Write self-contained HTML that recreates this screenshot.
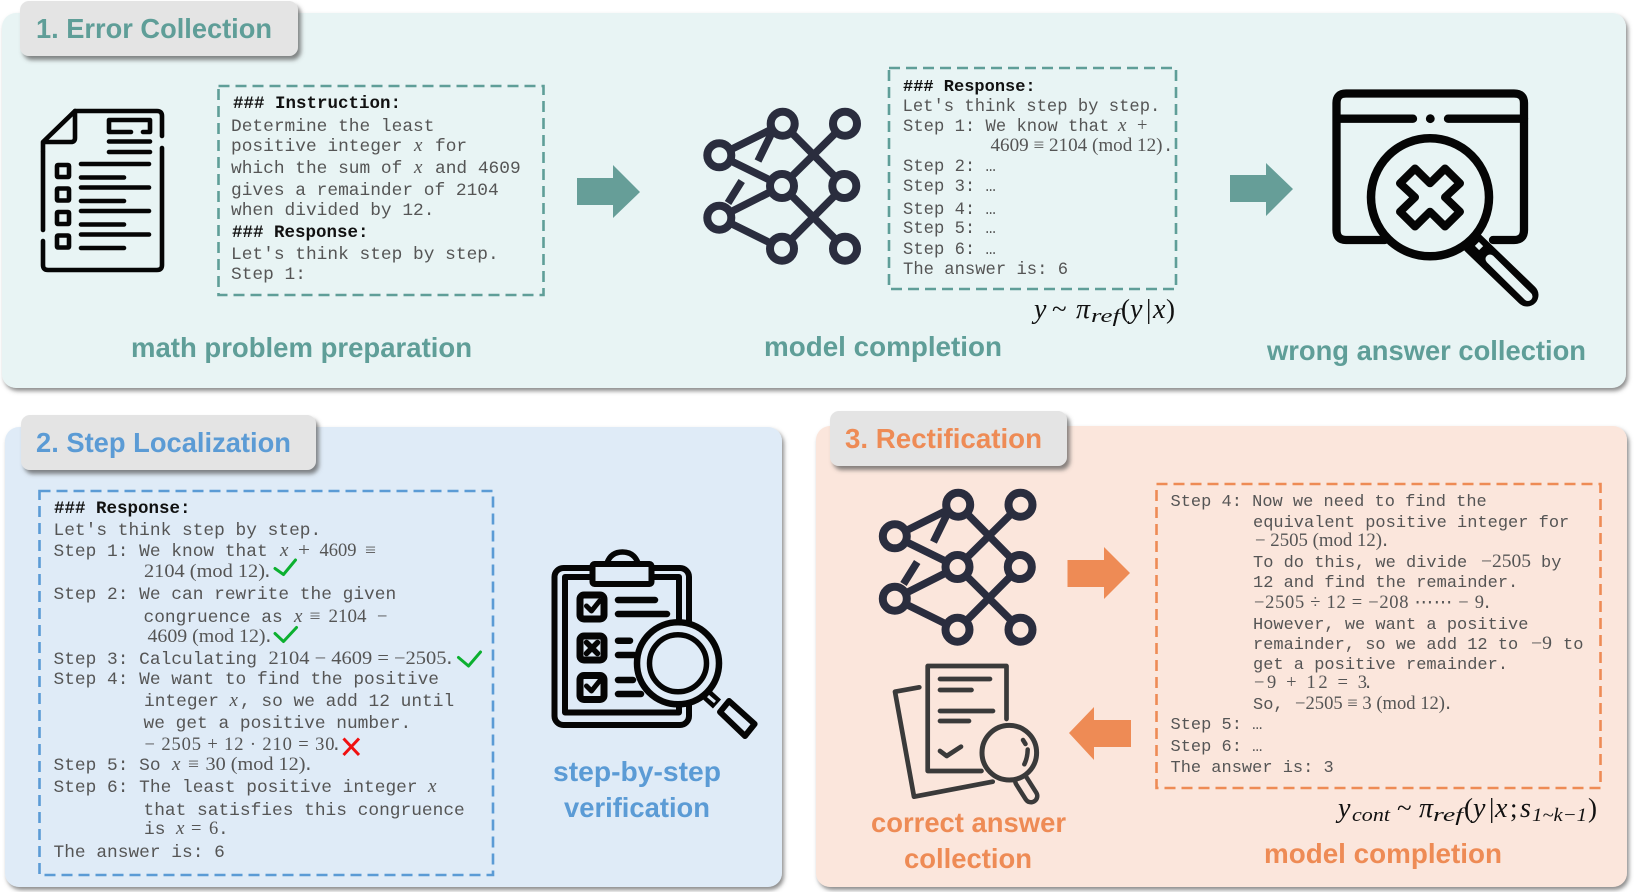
<!DOCTYPE html>
<html lang="en">
<head>
<meta charset="utf-8">
<title>Error Collection, Step Localization, Rectification</title>
<style>
html,body{margin:0;padding:0;background:#fff;width:1634px;height:892px;overflow:hidden}
svg{display:block}
.m{font-family:"Liberation Mono",monospace;font-size:17.85px;fill:#555}
.m2{font-family:"Liberation Mono",monospace;font-size:17.2px;fill:#555}
.m3{font-family:"Liberation Mono",monospace;font-size:17px;fill:#555}
.b{font-family:"Liberation Mono",monospace;font-weight:bold;font-size:17.5px;fill:#111}
.s{font-family:"Liberation Serif",serif;font-size:18.5px;fill:#555}
.i{font-family:"Liberation Serif",serif;font-style:italic;font-size:19px;fill:#555}
.h{font-family:"Liberation Sans",sans-serif;font-weight:bold;font-size:28px}
.t{fill:#5F9E98}.bl{fill:#5B9BD5}.o{fill:#EE8B55}
.q{font-family:"Liberation Serif",serif;font-style:italic;font-size:28px;fill:#111}
.qr{font-family:"Liberation Serif",serif;font-size:27px;fill:#111}
.qs{font-family:"Liberation Serif",serif;font-style:italic;font-size:19px;fill:#111}
.ln{fill:none;stroke-linecap:round;stroke-linejoin:round}
</style>
</head>
<body>
<svg xmlns="http://www.w3.org/2000/svg" width="1634" height="892" viewBox="0 0 1634 892">
<defs>
<filter id="sh" x="-5%" y="-5%" width="110%" height="110%"><feDropShadow dx="2" dy="3" stdDeviation="2" flood-color="#666" flood-opacity=".75"/></filter>
<filter id="sh2" x="-10%" y="-20%" width="120%" height="150%"><feDropShadow dx="3" dy="4" stdDeviation="2" flood-color="#555" flood-opacity=".7"/></filter>
<g id="net">
<g stroke="#2A2D3E" stroke-width="7.5" fill="none">
<path d="M719.3 154.3L782.7 122.7M719.3 154.3L782 185M719.3 216.7L782 185M719.3 216.7L782 247.7M782.7 122.7L844.3 185M845 122.7L782 185M844.3 185L782 247.7M782 185L845 247.7M771.7 132L758 160M741.7 180L728 202"/>
</g>
<g stroke="#2A2D3E" stroke-width="8" id="nodes">
<circle cx="782.7" cy="122.7" r="12"/><circle cx="845" cy="122.7" r="12"/><circle cx="719.3" cy="154.3" r="12"/><circle cx="782" cy="185" r="12"/><circle cx="844.3" cy="185" r="12"/><circle cx="719.3" cy="216.7" r="12"/><circle cx="782" cy="247.7" r="12"/><circle cx="845" cy="247.7" r="12"/>
</g>
</g>
</defs>

<!-- Panels -->
<rect x="2" y="13" width="1624" height="375" rx="14" fill="#E8F4F4" filter="url(#sh)"/>
<rect x="5" y="427" width="777" height="460" rx="14" fill="#DFEBF7" filter="url(#sh)"/>
<rect x="816" y="426" width="811" height="461" rx="14" fill="#FBE6DC" filter="url(#sh)"/>

<!-- Tabs -->
<rect x="20" y="1" width="278" height="55" rx="9" fill="#E4E4E4" filter="url(#sh2)"/>
<rect x="21" y="415" width="295" height="55" rx="9" fill="#E4E4E4" filter="url(#sh2)"/>
<rect x="830" y="411" width="237" height="55" rx="9" fill="#E4E4E4" filter="url(#sh2)"/>
<text class="h t" x="36" y="38" textLength="236" lengthAdjust="spacingAndGlyphs">1. Error Collection</text>
<text class="h bl" x="36" y="452" textLength="255" lengthAdjust="spacingAndGlyphs">2. Step Localization</text>
<text class="h o" x="845" y="448" textLength="197" lengthAdjust="spacingAndGlyphs">3. Rectification</text>

<!-- Captions -->
<text class="h t" x="131" y="357" textLength="341" lengthAdjust="spacingAndGlyphs">math problem preparation</text>
<text class="h t" x="764" y="356" textLength="238" lengthAdjust="spacingAndGlyphs">model completion</text>
<text class="h t" x="1267" y="360" textLength="319" lengthAdjust="spacingAndGlyphs">wrong answer collection</text>
<text class="h bl" x="553" y="781" textLength="168" lengthAdjust="spacingAndGlyphs">step-by-step</text>
<text class="h bl" x="564" y="817" textLength="146" lengthAdjust="spacingAndGlyphs">verification</text>
<text class="h o" x="871" y="832" textLength="195" lengthAdjust="spacingAndGlyphs">correct answer</text>
<text class="h o" x="904" y="868" textLength="128" lengthAdjust="spacingAndGlyphs">collection</text>
<text class="h o" x="1264" y="863" textLength="238" lengthAdjust="spacingAndGlyphs">model completion</text>

<!-- Dashed boxes -->
<g fill="none" stroke-width="2.6" stroke-dasharray="11 6">
<rect x="218.5" y="86" width="325" height="209" stroke="#5F9E98"/>
<rect x="889" y="68" width="287" height="221" stroke="#5F9E98"/>
<rect x="39.5" y="491" width="453.5" height="384" stroke="#5B9BD5"/>
<rect x="1156.5" y="484" width="444" height="304" stroke="#EE8B55"/>
</g>

<!-- Arrows -->
<polygon fill="#669E98" points="577,178 613,178 613,165 640,192 613,218 613,205 577,205"/>
<polygon fill="#669E98" points="1230,175 1266,175 1266,163 1293,189 1266,216 1266,202 1230,202"/>
<polygon fill="#EE8B55" points="1067.5,560 1104,560 1104,547 1130,573 1104,599 1104,587 1067.5,587"/>
<polygon fill="#EE8B55" points="1131,720 1094,720 1094,707 1069,733 1094,760 1094,747 1131,747"/>

<!-- Box 1 text -->
<text class="b" x="233" y="108">### Instruction:</text>
<text class="m" x="231" y="131">Determine the least</text>
<text class="m" x="231" y="151">positive integer</text><text class="i" x="414" y="151">x</text><text class="m" x="435" y="151">for</text>
<text class="m" x="231" y="173">which the sum of</text><text class="i" x="414" y="173">x</text><text class="m" x="435" y="173">and 4609</text>
<text class="m" x="231" y="195">gives a remainder of 2104</text>
<text class="m" x="231" y="215">when divided by 12.</text>
<text class="b" x="232" y="237">### Response:</text>
<text class="m" x="231" y="259">Let's think step by step.</text>
<text class="m" x="231" y="279">Step 1:</text>

<!-- Box 2 text (top right) -->
<text class="b" x="903" y="91" style="font-size:17px">### Response:</text>
<text class="m2" x="902.5" y="111">Let's think step by step.</text>
<text class="m2" x="903" y="131">Step 1: We know that</text><text class="i" x="1118" y="131">x</text><text class="s" x="1137" y="131">+</text>
<text class="s" x="990.5" y="151" textLength="172" lengthAdjust="spacingAndGlyphs">4609 ≡ 2104 (mod 12)</text><text class="m2" x="1163" y="151">.</text>
<text class="m2" x="903" y="171">Step 2: …</text>
<text class="m2" x="903" y="191">Step 3: …</text>
<text class="m2" x="903" y="214">Step 4: …</text>
<text class="m2" x="903" y="233">Step 5: …</text>
<text class="m2" x="903" y="254">Step 6: …</text>
<text class="m2" x="903" y="274">The answer is: 6</text>

<!-- Step localization text -->
<text class="b" x="54" y="513">### Response:</text>
<text class="m" x="53.5" y="535">Let's think step by step.</text>
<text class="m" x="53.5" y="556">Step 1: We know that</text><text class="i" x="280" y="556">x</text><text class="s" x="298" y="556" textLength="12" lengthAdjust="spacingAndGlyphs">+</text><text class="s" x="319.5" y="556" textLength="37" lengthAdjust="spacingAndGlyphs">4609</text><text class="s" x="365" y="556" textLength="11" lengthAdjust="spacingAndGlyphs">≡</text>
<text class="s" x="144" y="577" textLength="121" lengthAdjust="spacingAndGlyphs">2104 (mod 12)</text><text class="m" x="262" y="577">.</text>
<text class="m" x="53.5" y="599">Step 2: We can rewrite the given</text>
<text class="m" x="143.5" y="622">congruence as</text><text class="i" x="294" y="622">x</text><text class="s" x="309.5" y="622" textLength="11" lengthAdjust="spacingAndGlyphs">≡</text><text class="s" x="328.5" y="622" textLength="38" lengthAdjust="spacingAndGlyphs">2104</text><text class="s" x="377" y="622">−</text>
<text class="s" x="147.5" y="642" textLength="118" lengthAdjust="spacingAndGlyphs">4609 (mod 12)</text><text class="m" x="263" y="642">.</text>
<text class="m" x="53.5" y="664">Step 3: Calculating</text><text class="s" x="268.5" y="664" textLength="178" lengthAdjust="spacingAndGlyphs">2104 − 4609 = −2505</text><text class="m" x="444" y="664">.</text>
<text class="m" x="53.5" y="684">Step 4: We want to find the positive</text>
<text class="m" x="144" y="706">integer</text><text class="i" x="229.5" y="706">x</text><text class="m" x="240" y="706">, so we add 12 until</text>
<text class="m" x="143.5" y="728">we get a positive number.</text>
<text class="s" x="144.5" y="750" textLength="190" lengthAdjust="spacing">− 2505 + 12 · 210 = 30</text><text class="m" x="331" y="750">.</text>
<text class="m" x="53.5" y="770">Step 5: So</text><text class="i" x="172" y="770">x</text><text class="s" x="188" y="770" textLength="11" lengthAdjust="spacingAndGlyphs">≡</text><text class="s" x="205.5" y="770" textLength="100" lengthAdjust="spacingAndGlyphs">30 (mod 12)</text><text class="m" x="303" y="770">.</text>
<text class="m" x="53.5" y="792">Step 6: The least positive integer</text><text class="i" x="428" y="792">x</text>
<text class="m" x="143.5" y="815">that satisfies this congruence</text>
<text class="m" x="144" y="834">is</text><text class="i" x="176" y="834">x</text><text class="s" x="191" y="834">=</text><text class="s" x="209" y="834">6</text><text class="m" x="218" y="834">.</text>
<text class="m" x="53.5" y="857">The answer is: 6</text>

<!-- Marks -->
<g class="ln" stroke="#0CB030" stroke-width="3">
<polyline points="275,568.5 283.5,574.5 295.5,560"/>
<polyline points="275,633.5 283.5,641.5 296.5,627.5"/>
<polyline points="458.5,657.5 468.5,666 480.5,652"/>
</g>
<path d="M343.5 738.5L359 755M359 738.5L343.5 755" stroke="#F01010" stroke-width="3" fill="none"/>

<!-- Rectification text -->
<text class="m3" x="1170.5" y="506">Step 4: Now we need to find the</text>
<text class="m3" x="1253" y="527">equivalent positive integer for</text>
<text class="s" x="1255" y="546" textLength="127" lengthAdjust="spacingAndGlyphs">− 2505 (mod 12)</text><text class="m3" x="1380" y="546">.</text>
<text class="m3" x="1253" y="567">To do this, we divide</text><text class="s" x="1481" y="567" textLength="50" lengthAdjust="spacingAndGlyphs">−2505</text><text class="m3" x="1541" y="567">by</text>
<text class="m3" x="1253" y="587">12 and find the remainder.</text>
<text class="s" x="1254" y="608" textLength="230" lengthAdjust="spacing">−2505 ÷ 12 = −208 ⋯⋯ − 9</text><text class="m3" x="1482" y="608">.</text>
<text class="m3" x="1253" y="629">However, we want a positive</text>
<text class="m3" x="1253" y="649">remainder, so we add 12 to</text><text class="s" x="1531" y="649" textLength="21" lengthAdjust="spacingAndGlyphs">−9</text><text class="m3" x="1563" y="649">to</text>
<text class="m3" x="1253" y="669">get a positive remainder.</text>
<text class="s" x="1254" y="688" textLength="113" lengthAdjust="spacing">−9 + 12 = 3</text><text class="m3" x="1363" y="688">.</text>
<text class="m3" x="1253" y="709">So,</text><text class="s" x="1295" y="709" textLength="150" lengthAdjust="spacingAndGlyphs">−2505 ≡ 3 (mod 12)</text><text class="m3" x="1443" y="709">.</text>
<text class="m3" x="1170.5" y="729">Step 5: …</text>
<text class="m3" x="1170.5" y="751">Step 6: …</text>
<text class="m3" x="1170.5" y="772">The answer is: 3</text>

<!-- Math 1 -->
<text class="q" x="1034" y="318">y</text><text class="qr" x="1052" y="318">~</text><text class="q" x="1076" y="318">π</text><text class="qs" x="1091" y="322" textLength="29" lengthAdjust="spacingAndGlyphs">ref</text><text class="qr" x="1121" y="318">(</text><text class="q" x="1130" y="318">y</text><text class="qr" x="1146" y="318">|</text><text class="q" x="1153" y="318">x</text><text class="qr" x="1166" y="318">)</text>
<!-- Math 2 -->
<text class="q" x="1338" y="817">y</text><text class="qs" x="1352" y="821" textLength="38" lengthAdjust="spacingAndGlyphs">cont</text><text class="qr" x="1397" y="817">~</text><text class="q" x="1419" y="817">π</text><text class="qs" x="1433" y="821" textLength="30" lengthAdjust="spacingAndGlyphs">ref</text><text class="qr" x="1464" y="817">(</text><text class="q" x="1473" y="817">y</text><text class="qr" x="1489" y="817">|</text><text class="q" x="1495" y="817">x</text><text class="qr" x="1510" y="817">;</text><text class="q" x="1520" y="817">s</text><text class="qs" x="1532" y="821" textLength="55" lengthAdjust="spacingAndGlyphs">1~k−1</text><text class="qr" x="1588" y="817">)</text>

<!-- Document icon -->
<g class="ln" stroke="#050505" stroke-width="4.6">
<path d="M75 111H157Q162 111 162 116V136M162 148V265Q162 270 157 270H48Q43 270 43 265V241M43 230V152"/>
<path d="M43 151V142L75 111V138Q75 142 71 142H43"/>
<path d="M131 132H109V120H150V132H143"/>
<path d="M109 141.5H150M109 152H150"/>
<rect x="57" y="165" width="12" height="12" rx="1"/><rect x="57" y="188.5" width="12" height="12" rx="1"/><rect x="57" y="212" width="12" height="12" rx="1"/><rect x="57" y="235.5" width="12" height="12" rx="1"/>
<path d="M81 164H149M81 177.5H124M81 187.5H149M81 201H124M81 211H149M81 224.5H124M81 234.5H149M81 248H124"/>
</g>

<!-- Network icons -->
<g fill="#E8F4F4" transform="translate(0 1)"><use href="#net"/></g>
<g fill="#FBE6DC" transform="translate(175.5 382)"><use href="#net"/></g>

<!-- Wrong answer magnifier -->
<g class="ln" stroke="#050505" stroke-width="8.3">
<path d="M1385 240H1346Q1336.5 240 1336.5 230V103Q1336.5 93.5 1346 93.5H1514Q1524 93.5 1524 103V230Q1524 240 1514 240H1493"/>
<path d="M1337 118.7H1413M1448 118.7H1524"/>
</g>
<circle cx="1430.3" cy="118.7" r="4.4" fill="#050505"/>
<line x1="1473" y1="243" x2="1527" y2="295" stroke="#050505" stroke-width="23" stroke-linecap="round"/>
<line x1="1490" y1="259" x2="1528" y2="296.5" stroke="#E8F4F4" stroke-width="9" stroke-linecap="round"/>
<line x1="1477" y1="248" x2="1481" y2="244" stroke="#E8F4F4" stroke-width="6"/>
<circle cx="1430" cy="197.3" r="59" fill="#E8F4F4" stroke="#050505" stroke-width="8.5"/>
<polygon points="1415,168.5 1430,183.3 1445,168.5 1460,183.3 1445,197.3 1460,211.7 1445,226.5 1430,211.7 1415,226.5 1400,211.7 1415,197.3 1400,183.3" fill="none" stroke="#050505" stroke-width="8" stroke-linejoin="round"/>

<!-- Clipboard icon -->
<g class="ln" stroke="#050505" stroke-width="6">
<rect x="554.5" y="568" width="134.5" height="157" rx="9"/>
<path d="M679 660V577H565V712.5H679V700"/>
<path d="M607 563Q611 552 622.5 552Q634 552 638 563" stroke-width="5.5" fill="#DFEBF7"/>
<rect x="592.5" y="564" width="59" height="20" rx="2" fill="#DFEBF7"/>
<rect x="580" y="595" width="24" height="24" rx="4" stroke-width="7"/>
<rect x="580" y="636" width="24" height="24" rx="4" stroke-width="7"/>
<rect x="580" y="675.5" width="24" height="24" rx="4" stroke-width="7"/>
<path d="M586.5 606L591.5 611L599.5 601" stroke-width="5"/>
<path d="M586.5 642.5L597.5 653.5M597.5 642.5L586.5 653.5" stroke-width="5.5"/>
<path d="M586.5 686L591.5 691L599.5 681" stroke-width="5"/>
<path d="M618 600H655M618 614H667M618 640.7H630M618 655H634M618 680H633M618 694H641" stroke-width="6.5"/>
</g>
<line x1="706" y1="694" x2="717" y2="704" stroke="#050505" stroke-width="12"/>
<line x1="708" y1="696" x2="715" y2="702" stroke="#DFEBF7" stroke-width="3"/>
<polygon points="729,701 754.6,724 745,736 720,712" fill="#DFEBF7" stroke="#050505" stroke-width="6" stroke-linejoin="round"/>
<circle cx="678" cy="663.3" r="41" fill="#DFEBF7" stroke="#050505" stroke-width="6.5"/>
<circle cx="678" cy="663.3" r="28.5" fill="#DFEBF7" stroke="#050505" stroke-width="5.5"/>
<circle cx="622.3" cy="564" r="3" fill="#050505"/>

<!-- Correct answer doc icon -->
<g class="ln" stroke="#3A3A3A" stroke-width="4.7">
<path d="M1006.5 719V666H927.7V771H981.5"/>
<path d="M940 679H990M940 690H971.5M940 711H993M940 721H969"/>
<path d="M940 751L946.7 756L961 746.7"/>
<path d="M919.3 687.3L895 691.7L914 796.7L992.7 781.7"/>
<line x1="1021.5" y1="781" x2="1031" y2="796" stroke-width="17"/>
<line x1="1021.5" y1="781" x2="1031" y2="796" stroke-width="8" stroke="#FBE6DC"/>
<circle cx="1009.3" cy="752.7" r="27.3" fill="#FBE6DC" stroke-width="5"/>
<path d="M1023 740L1025.5 744M1027.7 749.5Q1027.5 758 1024.3 764.3" stroke-width="4.5"/>
</g>
</svg>
</body>
</html>
